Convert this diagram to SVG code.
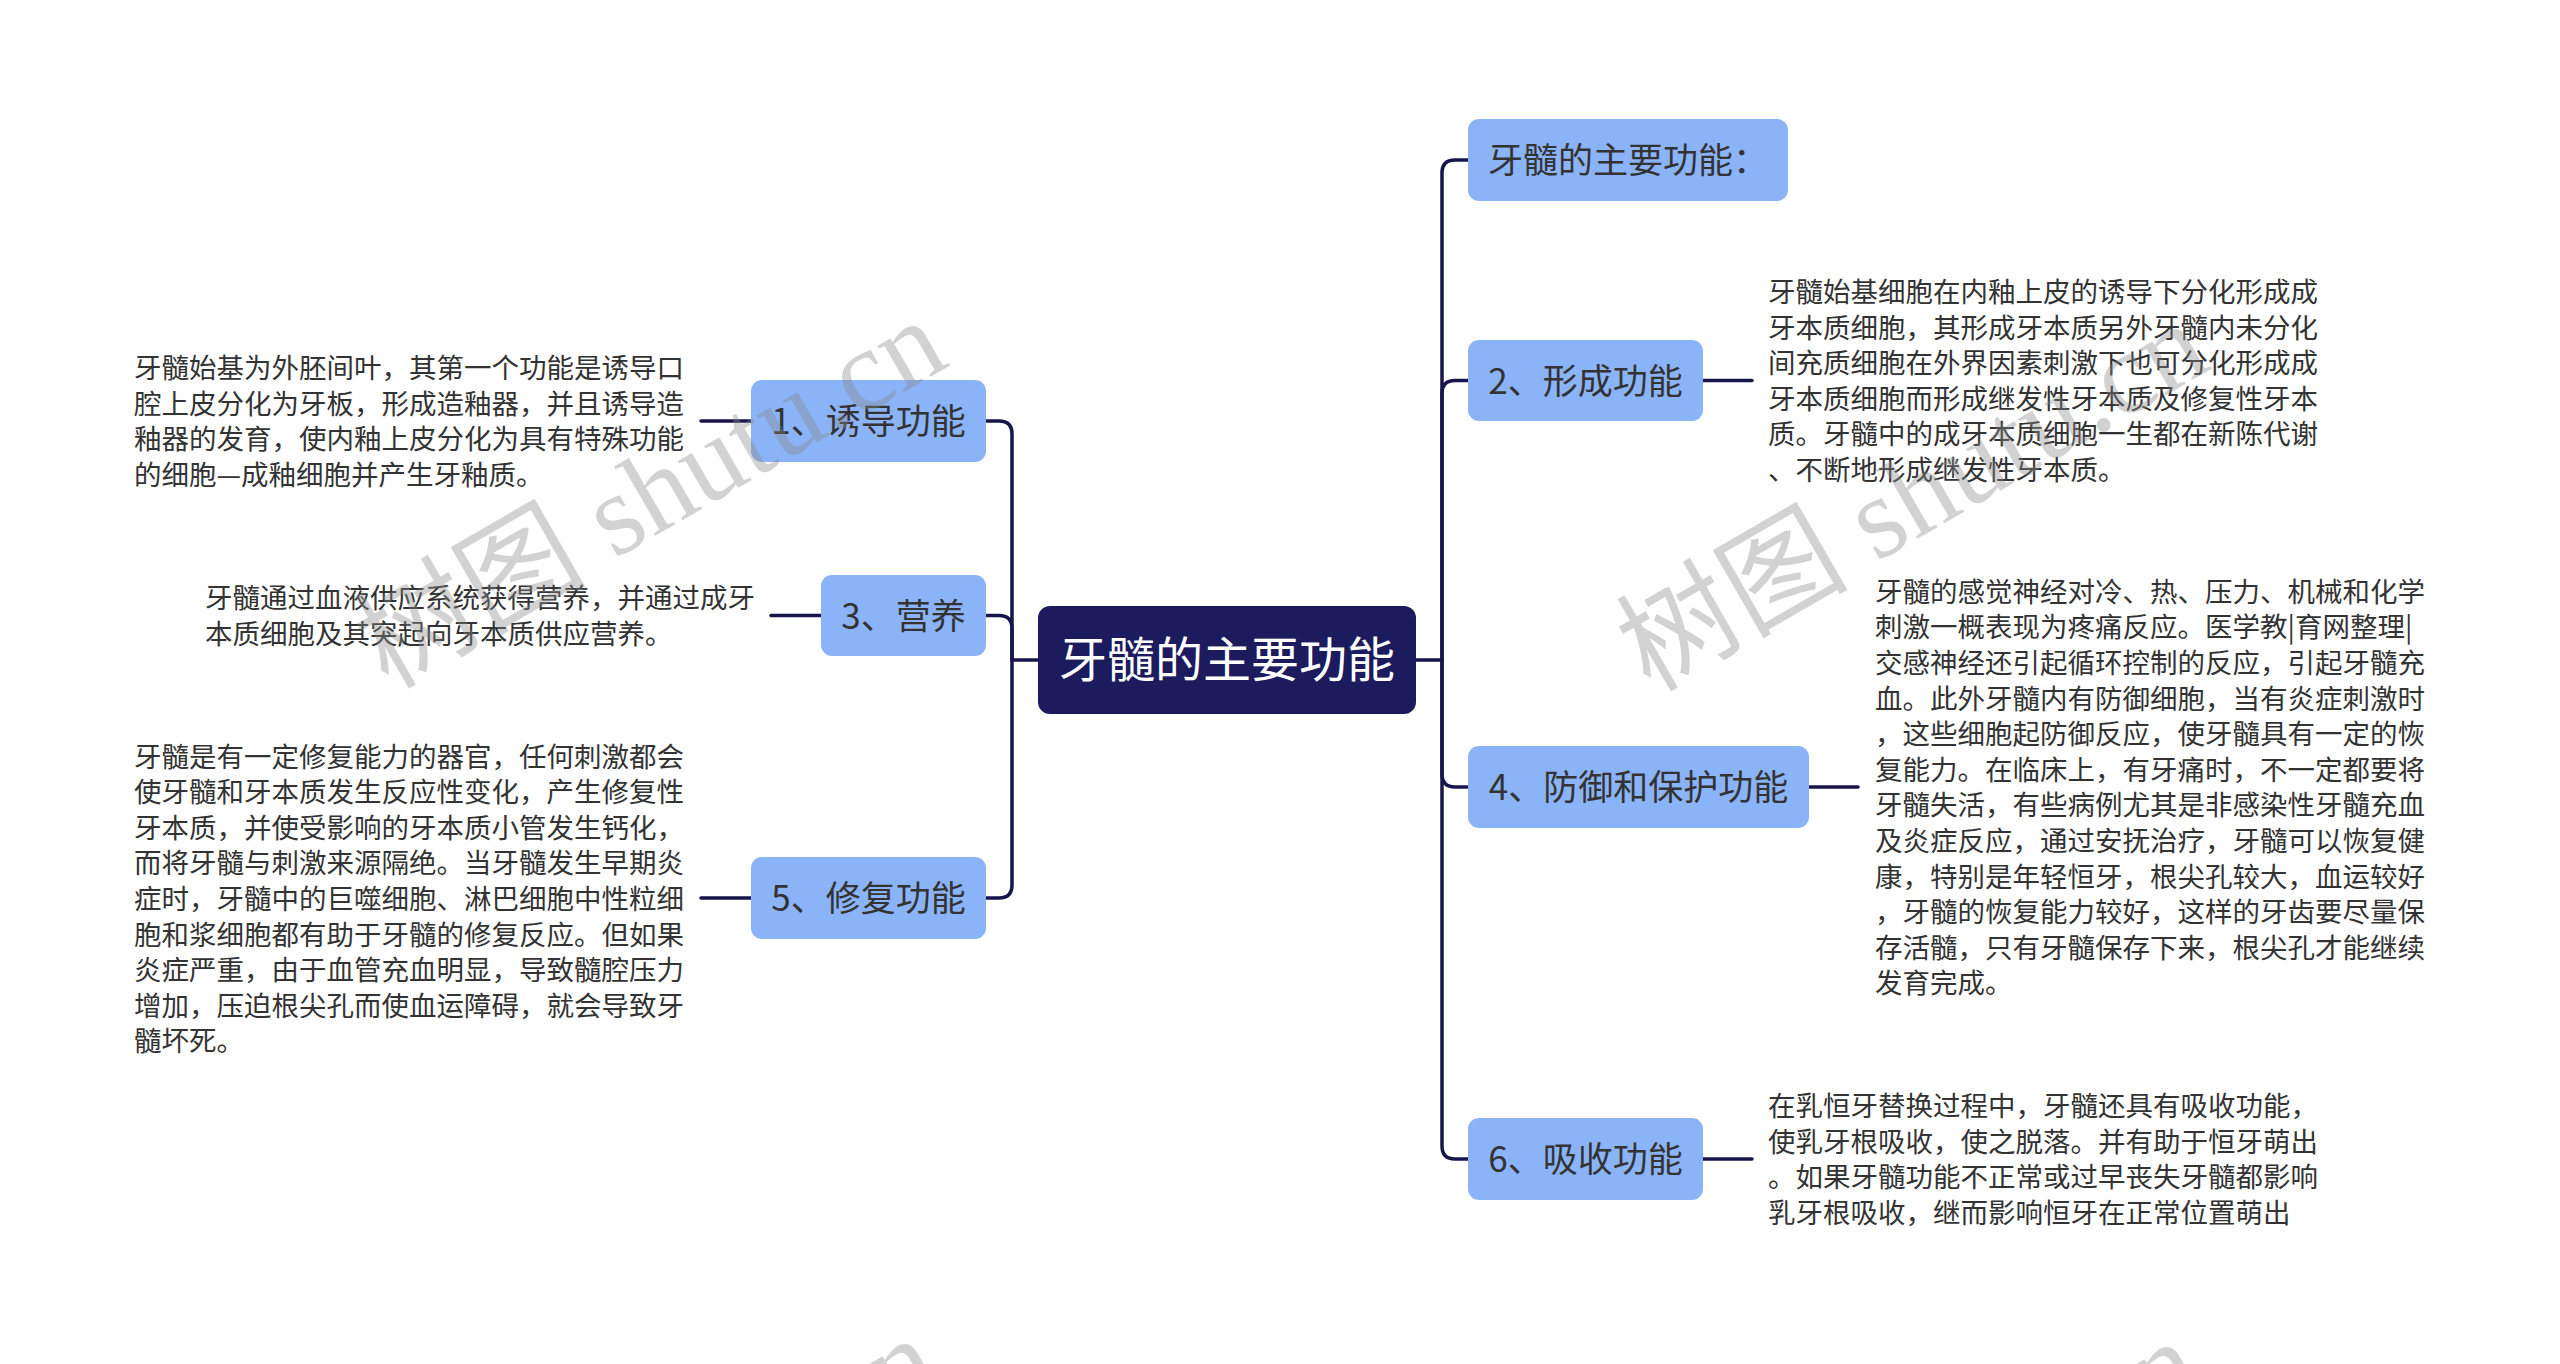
<svg xmlns="http://www.w3.org/2000/svg" width="2560" height="1364" viewBox="0 0 2560 1364">
<style>
.node{fill:#8bb4f8;}
.root{fill:#1b1b5e;}
.nt{font-family:"Noto Sans CJK SC","Noto Sans",sans-serif;font-size:35px;fill:#333;text-anchor:middle;}
.rt{font-family:"Noto Sans CJK SC","Noto Sans",sans-serif;font-size:48px;fill:#fff;text-anchor:middle;}
.desc{font-family:"Noto Sans CJK SC","Noto Sans",sans-serif;font-size:27.5px;fill:#333;}
.ln{fill:none;stroke:#16164c;stroke-width:3.5;stroke-linecap:round;}
.wm{font-family:"Liberation Serif","Noto Sans CJK SC",serif;font-size:116px;fill:#888;fill-opacity:0.38;}
</style>
<rect width="2560" height="1364" fill="#fff"/>
<g id="connectors">
<path class="ln" d="M1416,660 H1442 V173 Q1442,160 1455,160 H1468"/>
<path class="ln" d="M1442,660 V393.5 Q1442,380.5 1455,380.5 H1468"/>
<path class="ln" d="M1442,660 V774 Q1442,787 1455,787 H1468"/>
<path class="ln" d="M1442,660 V1146 Q1442,1159 1455,1159 H1468"/>
<path class="ln" d="M1038,660 H1012 V434 Q1012,421 999,421 H986"/>
<path class="ln" d="M1012,660 V628.5 Q1012,615.5 999,615.5 H986"/>
<path class="ln" d="M1012,660 V885 Q1012,898 999,898 H986"/>
<path class="ln" d="M751,421 H701"/>
<path class="ln" d="M821,615.5 H771"/>
<path class="ln" d="M751,898 H701"/>
<path class="ln" d="M1703,380.5 H1752"/>
<path class="ln" d="M1809,787 H1858"/>
<path class="ln" d="M1703,1159 H1752"/>
</g>
<g id="root">
<rect class="root" x="1038" y="606" width="378" height="108" rx="12"/>
<text class="rt" x="1227" y="677">牙髓的主要功能</text>
</g>
<g id="n0">
<rect class="node" x="1468" y="119" width="320" height="82" rx="11"/>
<text class="nt" x="1628" y="173">牙髓的主要功能：</text>
</g>
<g id="n2">
<rect class="node" x="1468" y="340" width="235" height="81" rx="11"/>
<text class="nt" x="1585.5" y="393.5">2、形成功能</text>
<text class="desc"><tspan x="1768" y="302">牙髓始基细胞在内釉上皮的诱导下分化形成成</tspan><tspan x="1768" y="337.6">牙本质细胞，其形成牙本质另外牙髓内未分化</tspan><tspan x="1768" y="373.2">间充质细胞在外界因素刺激下也可分化形成成</tspan><tspan x="1768" y="408.8">牙本质细胞而形成继发性牙本质及修复性牙本</tspan><tspan x="1768" y="444.4">质。牙髓中的成牙本质细胞一生都在新陈代谢</tspan><tspan x="1768" y="480">、不断地形成继发性牙本质。</tspan></text>
</g>
<g id="n4">
<rect class="node" x="1468" y="746" width="341" height="82" rx="11"/>
<text class="nt" x="1638.5" y="800">4、防御和保护功能</text>
<text class="desc"><tspan x="1875" y="601.7">牙髓的感觉神经对冷、热、压力、机械和化学</tspan><tspan x="1875" y="637.3">刺激一概表现为疼痛反应。医学教|育网整理|</tspan><tspan x="1875" y="672.9">交感神经还引起循环控制的反应，引起牙髓充</tspan><tspan x="1875" y="708.5">血。此外牙髓内有防御细胞，当有炎症刺激时</tspan><tspan x="1875" y="744.1">，这些细胞起防御反应，使牙髓具有一定的恢</tspan><tspan x="1875" y="779.7">复能力。在临床上，有牙痛时，不一定都要将</tspan><tspan x="1875" y="815.3">牙髓失活，有些病例尤其是非感染性牙髓充血</tspan><tspan x="1875" y="850.9">及炎症反应，通过安抚治疗，牙髓可以恢复健</tspan><tspan x="1875" y="886.5">康，特别是年轻恒牙，根尖孔较大，血运较好</tspan><tspan x="1875" y="922.1">，牙髓的恢复能力较好，这样的牙齿要尽量保</tspan><tspan x="1875" y="957.7">存活髓，只有牙髓保存下来，根尖孔才能继续</tspan><tspan x="1875" y="993.3">发育完成。</tspan></text>
</g>
<g id="n6">
<rect class="node" x="1468" y="1118" width="235" height="82" rx="11"/>
<text class="nt" x="1585.5" y="1172">6、吸收功能</text>
<text class="desc"><tspan x="1768" y="1116">在乳恒牙替换过程中，牙髓还具有吸收功能，</tspan><tspan x="1768" y="1151.6">使乳牙根吸收，使之脱落。并有助于恒牙萌出</tspan><tspan x="1768" y="1187.2">。如果牙髓功能不正常或过早丧失牙髓都影响</tspan><tspan x="1768" y="1222.8">乳牙根吸收，继而影响恒牙在正常位置萌出</tspan></text>
</g>
<g id="n1">
<rect class="node" x="751" y="380" width="235" height="82" rx="11"/>
<text class="nt" x="868.5" y="434">1、诱导功能</text>
<text class="desc"><tspan x="134" y="378">牙髓始基为外胚间叶，其第一个功能是诱导口</tspan><tspan x="134" y="413.6">腔上皮分化为牙板，形成造釉器，并且诱导造</tspan><tspan x="134" y="449.2">釉器的发育，使内釉上皮分化为具有特殊功能</tspan><tspan x="134" y="484.8">的细胞—成釉细胞并产生牙釉质。</tspan></text>
</g>
<g id="n3">
<rect class="node" x="821" y="575" width="165" height="81" rx="11"/>
<text class="nt" x="903.5" y="628.5">3、营养</text>
<text class="desc"><tspan x="205" y="608">牙髓通过血液供应系统获得营养，并通过成牙</tspan><tspan x="205" y="643.6">本质细胞及其突起向牙本质供应营养。</tspan></text>
</g>
<g id="n5">
<rect class="node" x="751" y="857" width="235" height="82" rx="11"/>
<text class="nt" x="868.5" y="911">5、修复功能</text>
<text class="desc"><tspan x="134" y="766.5">牙髓是有一定修复能力的器官，任何刺激都会</tspan><tspan x="134" y="802.1">使牙髓和牙本质发生反应性变化，产生修复性</tspan><tspan x="134" y="837.7">牙本质，并使受影响的牙本质小管发生钙化，</tspan><tspan x="134" y="873.3">而将牙髓与刺激来源隔绝。当牙髓发生早期炎</tspan><tspan x="134" y="908.9">症时，牙髓中的巨噬细胞、淋巴细胞中性粒细</tspan><tspan x="134" y="944.5">胞和浆细胞都有助于牙髓的修复反应。但如果</tspan><tspan x="134" y="980.1">炎症严重，由于血管充血明显，导致髓腔压力</tspan><tspan x="134" y="1015.7">增加，压迫根尖孔而使血运障碍，就会导致牙</tspan><tspan x="134" y="1051.3">髓坏死。</tspan></text>
</g>
<g id="watermark">
<text class="wm" transform="translate(388,690) rotate(-30)">树图 shutu.cn</text>
<text class="wm" transform="translate(1650,693) rotate(-30)">树图 shutu.cn</text>
<text class="wm" transform="translate(380,1708) rotate(-30)">树图 shutu.cn</text>
<text class="wm" transform="translate(1642,1711) rotate(-30)">树图 shutu.cn</text>
</g>
</svg>
